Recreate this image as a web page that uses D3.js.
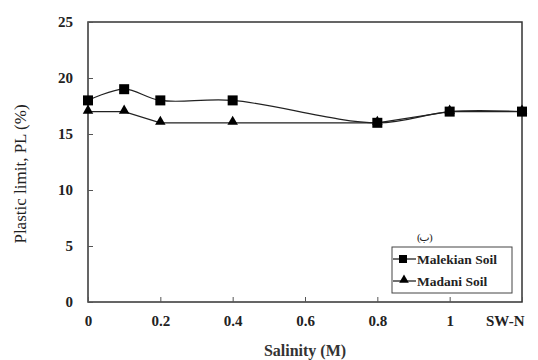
<!DOCTYPE html>
<html><head><meta charset="utf-8">
<script src="https://cdn.jsdelivr.net/npm/d3@7"></script>
<style>body{margin:0;background:#fff}</style>
</head><body>
<script>
const salinity = [0, 0.1, 0.2, 0.4, 0.8, 1.0, 1.2];
const malekian = [18, 19, 18, 18, 16, 17, 17];
const madani = [17, 17, 16, 16, 16, 17, 17];
const xTicks = [0, 0.2, 0.4, 0.6, 0.8, 1.0, 1.2];
const xTickLabels = ["0", "0.2", "0.4", "0.6", "0.8", "1", "SW-N"];
const yTicks = [0, 5, 10, 15, 20, 25];

const SERIF = '"Liberation Serif"';
const W = 538, H = 360;
const m = {l: 88, r: 16, t: 22, b: 58};
const svg = d3.select("body").append("svg").attr("width", W).attr("height", H);
const x = d3.scaleLinear().domain([0, 1.2]).range([m.l, W - m.r]);
const y = d3.scaleLinear().domain([0, 25]).range([H - m.b, m.t]);

// frame
svg.append("rect").attr("x", m.l).attr("y", m.t).attr("width", W - m.r - m.l).attr("height", H - m.b - m.t)
  .attr("fill", "none").attr("stroke", "#333").attr("stroke-width", 1.5);

const xAxis = svg.append("g").attr("transform", `translate(0,${H - m.b})`)
  .call(d3.axisBottom(x).tickValues(xTicks).tickSizeInner(-5).tickSizeOuter(0).tickPadding(13)
    .tickFormat((d, i) => xTickLabels[i]));
xAxis.attr("font-family", null);
xAxis.select(".domain").remove();
xAxis.selectAll("text").style("font-family", SERIF).attr("font-size", 15).attr("font-weight", "bold").attr("fill", "#222")
  .attr("text-anchor", (d, i) => i === xTicks.length - 1 ? "end" : "middle")
  .attr("dx", (d, i) => i === xTicks.length - 1 ? 2 : 0);
xAxis.selectAll("line").attr("stroke", "#555");

const yAxis = svg.append("g").attr("transform", `translate(${m.l},0)`)
  .call(d3.axisLeft(y).tickValues(yTicks).tickSizeInner(-5).tickSizeOuter(0).tickPadding(15));
yAxis.attr("font-family", null);
yAxis.select(".domain").remove();
yAxis.selectAll("text").style("font-family", SERIF).attr("font-size", 15).attr("font-weight", "bold").attr("fill", "#222");
yAxis.selectAll("line").attr("stroke", "#555");

// lines
const smooth = d3.line().x((d, i) => x(salinity[i])).y(d => y(d)).curve(d3.curveCatmullRom.alpha(0.5));
const straight = d3.line().x((d, i) => x(salinity[i])).y(d => y(d));
svg.append("path").attr("d", straight(madani)).attr("fill", "none").attr("stroke", "#222").attr("stroke-width", 1.2);
svg.append("path").attr("d", smooth(malekian)).attr("fill", "none").attr("stroke", "#222").attr("stroke-width", 1.2);

const tri = d3.symbol().type(d3.symbolTriangle).size(48);
svg.selectAll(".tri").data(madani).enter().append("path")
  .attr("d", tri).attr("transform", (d, i) => `translate(${x(salinity[i])},${y(d) - 1})`).attr("fill", "#000");
svg.selectAll(".sq").data(malekian).enter().append("rect")
  .attr("x", (d, i) => x(salinity[i]) - 5).attr("y", d => y(d) - 5).attr("width", 10).attr("height", 10).attr("fill", "#000");

// label (ب)
const pl = svg.append("g").attr("font-size", 11).attr("fill", "#222");
pl.append("text").attr("x", 417).attr("y", 241).style("font-family", SERIF).text("(");
pl.append("text").attr("x", 424.5).attr("y", 241).attr("text-anchor", "middle").style("font-family", '"DejaVu Sans"').text("ب");
pl.append("text").attr("x", 429).attr("y", 241).style("font-family", SERIF).text(")");

// legend
const lg = svg.append("g");
lg.append("rect").attr("x", 392).attr("y", 247).attr("width", 120).attr("height", 46)
  .attr("fill", "#fff").attr("stroke", "#444").attr("stroke-width", 1);
const legendItems = [["Malekian Soil", "sq"], ["Madani Soil", "tri"]];
legendItems.forEach((it, i) => {
  const yy = 259 + i * 22;
  lg.append("line").attr("x1", 393).attr("x2", 416).attr("y1", yy).attr("y2", yy).attr("stroke", "#111").attr("stroke-width", 1.2);
  if (it[1] === "sq") lg.append("rect").attr("x", 399).attr("y", yy - 4).attr("width", 8).attr("height", 8).attr("fill", "#000");
  else lg.append("path").attr("d", d3.symbol().type(d3.symbolTriangle).size(40)).attr("transform", `translate(404,${yy - 1})`).attr("fill", "#000");
  lg.append("text").attr("x", 417).attr("y", yy + 4.5).style("font-family", SERIF).attr("font-size", 13.5).attr("font-weight", "bold")
    .attr("fill", "#222").text(it[0]);
});

// axis titles
svg.append("text").attr("x", 305).attr("y", 356).attr("text-anchor", "middle").style("font-family", SERIF).attr("font-size", 16)
  .attr("font-weight", "bold").attr("fill", "#333").text("Salinity (M)");
svg.append("text").attr("transform", "translate(26,174) rotate(-90)").attr("text-anchor", "middle")
  .style("font-family", SERIF).attr("font-size", 17).attr("fill", "#222").text("Plastic limit, PL (%)");
</script>
</body></html>
